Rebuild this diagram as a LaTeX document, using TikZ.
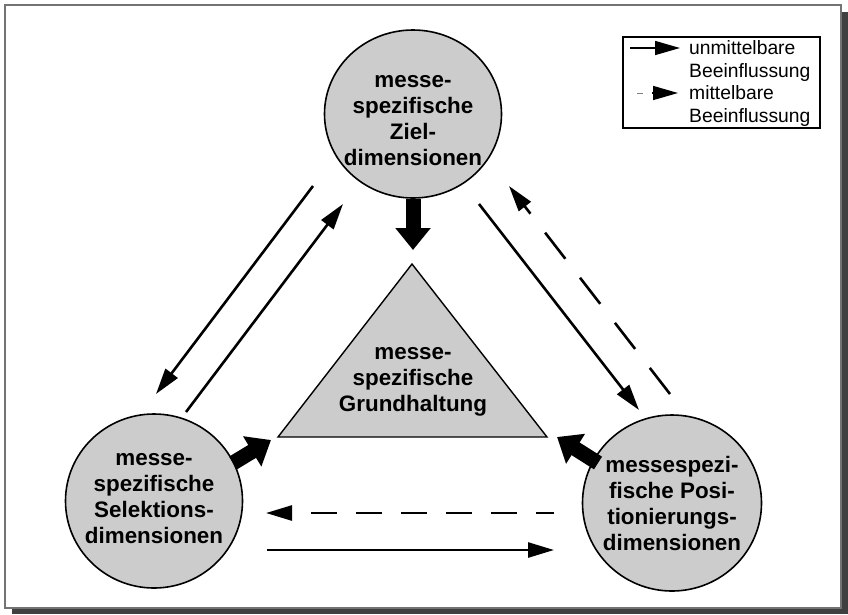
\documentclass[tikz,border=0pt]{standalone}
\usepackage{fontspec}
\setmainfont{Liberation Sans}
\usetikzlibrary{arrows.meta,shapes.geometric}
\definecolor{shapefill}{gray}{0.80}
\definecolor{framegray}{gray}{0.45}
\definecolor{shadowgray}{gray}{0.25}
\begin{document}
\begin{tikzpicture}[x=1pt,y=-1pt,
  lbl/.style={font=\bfseries\fontsize{22.4}{26}\selectfont, align=center, inner sep=0pt},
  legtext/.style={font=\fontsize{19.3}{23}\selectfont, anchor=base west, inner sep=0pt},
  bubble/.style={ellipse, draw=black, line width=1.6pt, fill=shapefill, inner sep=0pt},
  thinarrow/.style={line width=2.6pt, -{Triangle[length=26pt,width=15pt]}},
  dasharrow/.style={thinarrow},
  blockarrow/.style={line width=15pt, -{Triangle[length=22pt,width=34pt]}},
  legarrow/.style={line width=1.5pt, -{Triangle[length=25pt,width=14pt]}}
]
\useasboundingbox (0,0) rectangle (848,614);
% frame with shadow
\fill[shadowgray] (12,12) rectangle (848,614);
\filldraw[fill=white, draw=framegray, line width=1.6pt] (5,5) rectangle (841,608);

% shapes
\node[bubble, minimum width=177pt, minimum height=168pt] (Z) at (413,114) {};
\node[bubble, minimum width=177pt, minimum height=174pt] (S) at (154,501) {};
\node[bubble, minimum width=179pt, minimum height=176pt] (P) at (672,503) {};
\coordinate (T1) at (412,264);
\coordinate (T2) at (278,437);
\coordinate (T3) at (547,437);
\filldraw[fill=shapefill, draw=black, line width=1.4pt, line join=miter] (T1) -- (T2) -- (T3) -- cycle;

% labels
\node[lbl] (Zt) at (413,121) {messe-\\spezifische\\Ziel-\\dimensionen};
\node[lbl] (St) at (154,499) {messe-\\spezifische\\Selektions-\\dimensionen};
\node[lbl] (Pt) at (672,503) {messespezi-\\fische Posi-\\tionierungs-\\dimensionen};
\node[lbl] (Tt) at (413,382) {messe-\\spezifische\\Grundhaltung};

% arrow end points
\coordinate (a1s) at (313,186);
\coordinate (a1e) at (156,394);
\coordinate (a2s) at (186,412);
\coordinate (a2e) at (343,204);
\coordinate (a3s) at (479,204);
\coordinate (a3e) at (639,410);
\coordinate (a4s) at (670,394);
\coordinate (a4e) at (509,186);
\coordinate (h1s) at (554,513);
\coordinate (h1e) at (266,513);
\coordinate (h2s) at (267,550);
\coordinate (h2e) at (554,550);

\draw[thinarrow] (a1s) -- (a1e);
\draw[thinarrow] (a2s) -- (a2e);
\draw[thinarrow] (a3s) -- (a3e);
\draw[dasharrow, dash pattern=on 33pt off 24pt] (a4s) -- (a4e);
\draw[dasharrow, dash pattern=on 26pt off 19pt, dash phase=8pt] (h1s) -- (h1e);
\draw[thinarrow] (h2s) -- (h2e);

% block arrows
\coordinate (b1e) at (413,250);
\coordinate (b2s) at (233,463);
\coordinate (b2e) at (271,440);
\coordinate (b3s) at (598,463);
\coordinate (b3e) at (557,437);
\draw[blockarrow] (Z.south) -- (b1e);
\draw[blockarrow] (b2s) -- (b2e);
\draw[blockarrow] (b3s) -- (b3e);

% legend
\node[draw=black, line width=1.2pt, minimum width=197pt, minimum height=91pt, inner sep=0pt] (L) at (721.5,82.5) {};
\node[legtext] (L1) at (689,54) {unmittelbare};
\node[legtext] (L2) at (689,77) {Beeinflussung};
\node[legtext] (L3) at (689,99) {mittelbare};
\node[legtext] (L4) at (689,122) {Beeinflussung};
\coordinate (l1s) at (630,48);
\coordinate (l1e) at (680,48);
\coordinate (l2a) at (637,93);
\coordinate (l2b) at (643,93);
\coordinate (l2s) at (652,93);
\coordinate (l2e) at (678,93);
\draw[legarrow] (l1s) -- (l1e);
\draw[gray, line width=1pt] (l2a) -- (l2b);
\draw[legarrow] (l2s) -- (l2e);
\end{tikzpicture}
\end{document}
